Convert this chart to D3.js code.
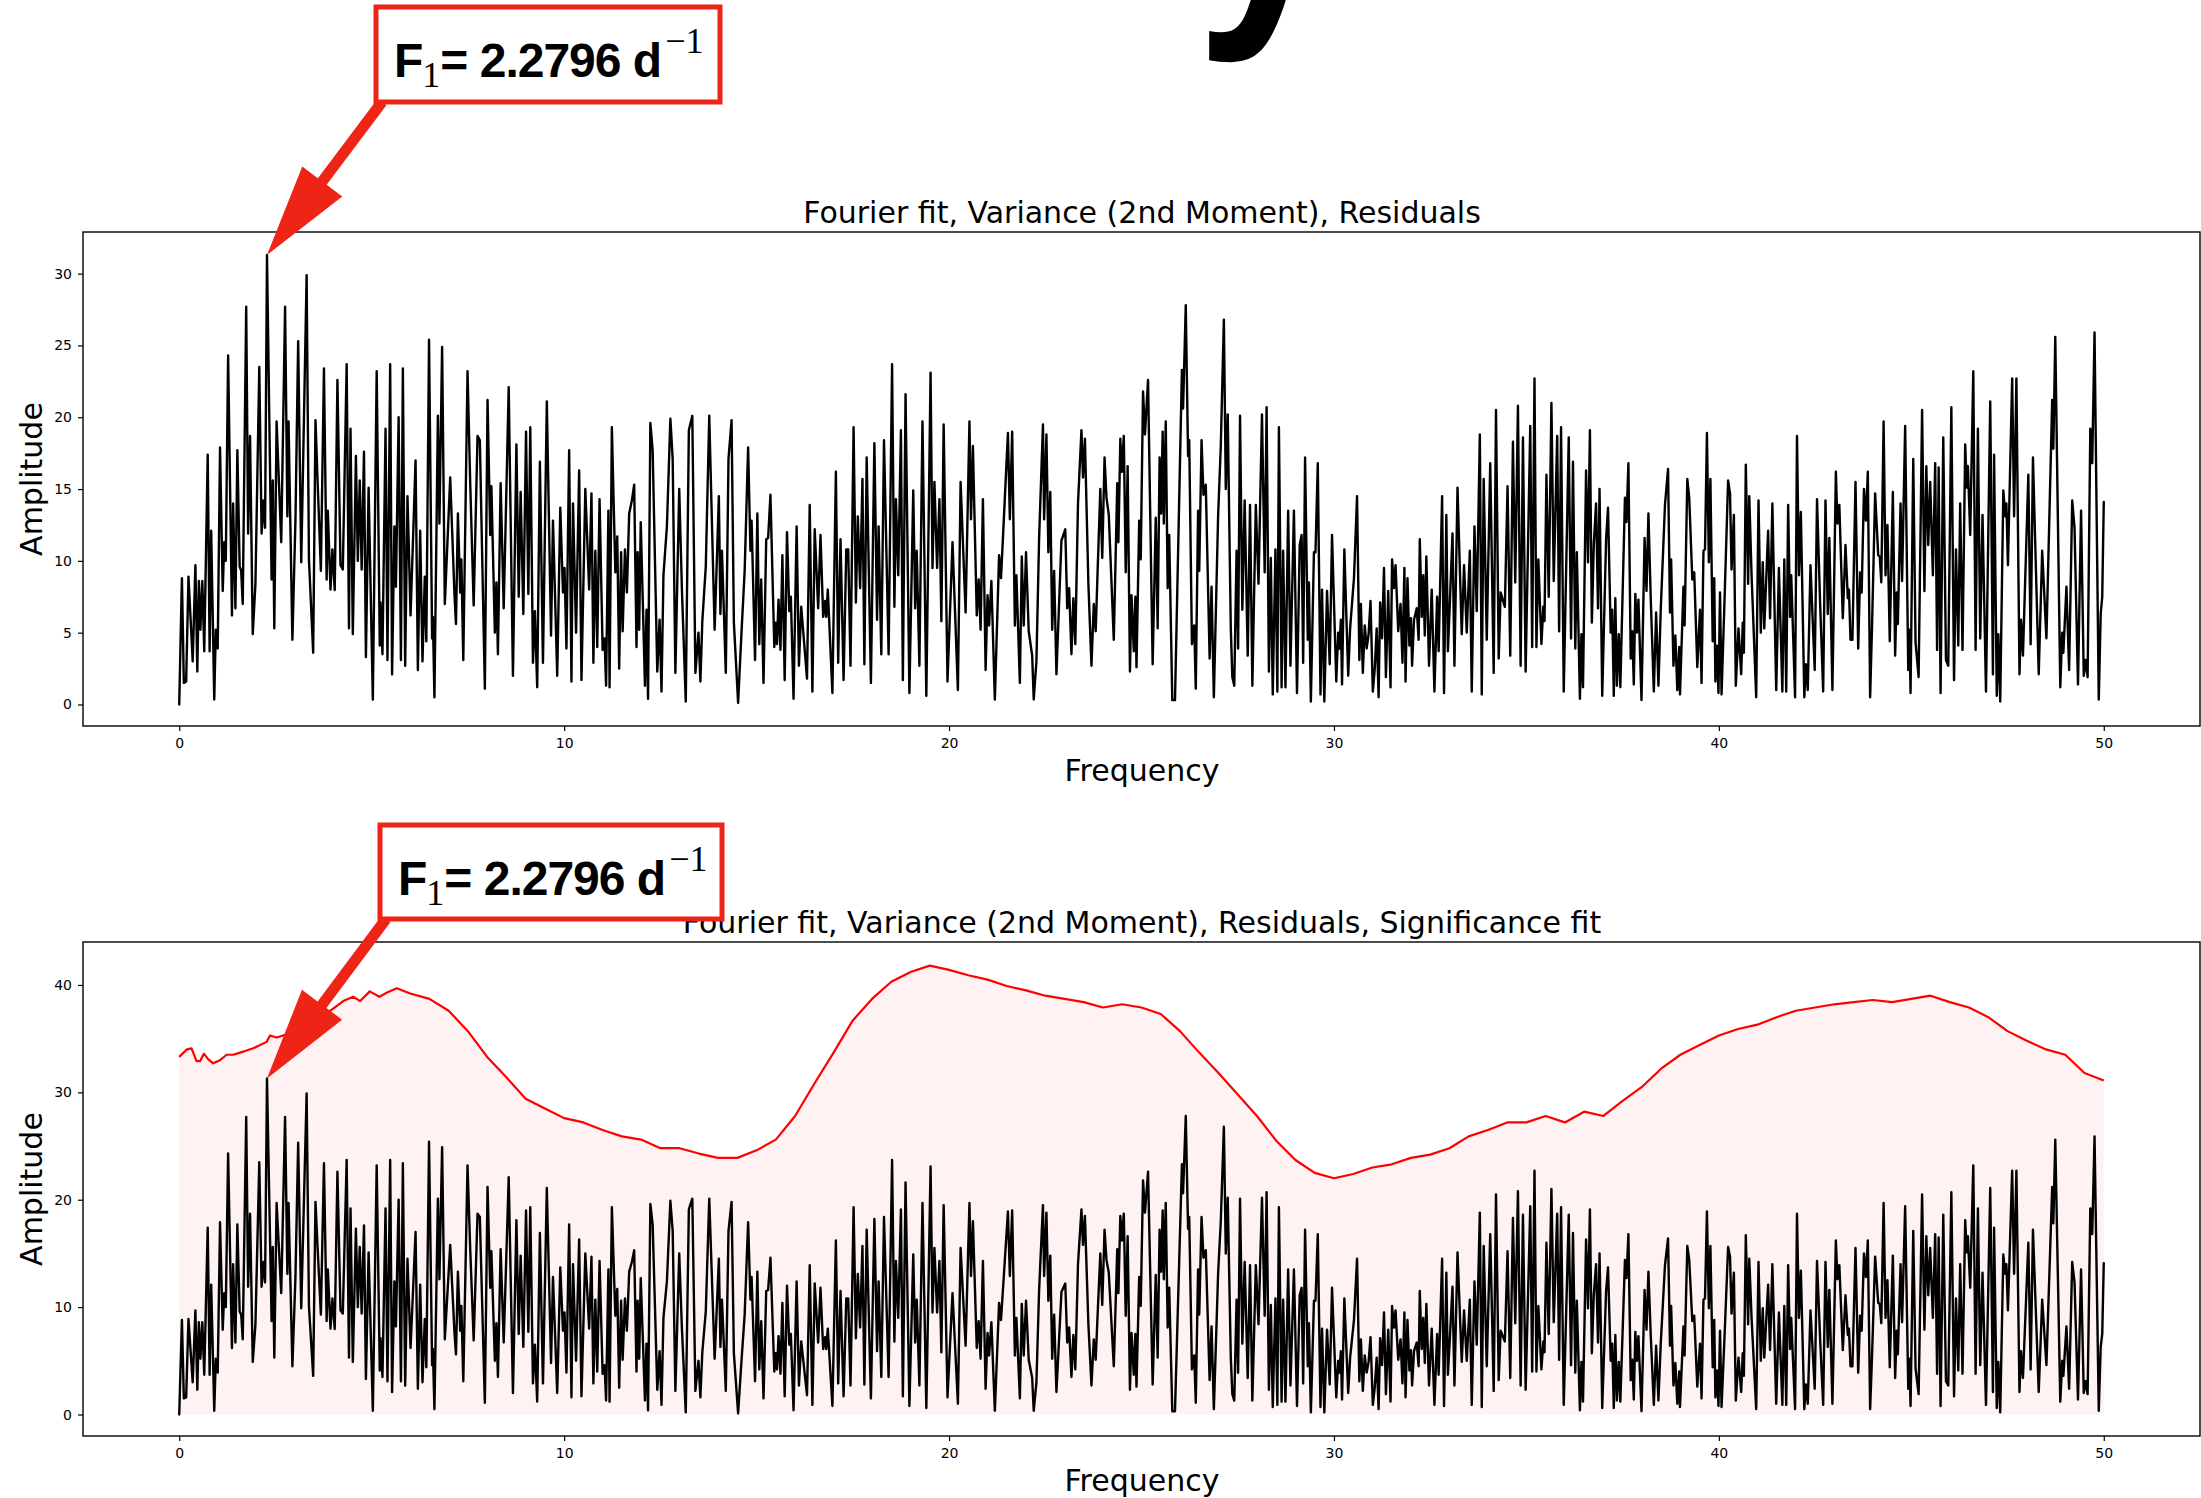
<!DOCTYPE html>
<html><head><meta charset="utf-8">
<script src="https://cdn.jsdelivr.net/npm/d3@7"></script>
<style>body{margin:0;background:#fff;} svg{display:block;}</style>
</head><body>
<script>
// ---------- data ----------
const residualPoints = [
[0,0],[0.07,8.8],[0.12,1.5],[0.18,1.6],[0.24,8.9],[0.35,3.0],[0.42,9.7],[0.47,2.3],[0.51,8.6],[0.55,5.2],[0.60,8.6],[0.65,3.7],[0.74,17.4],[0.79,3.7],[0.83,12.1],[0.91,0.35],[0.95,5.2],[1.0,3.9],[1.06,17.9],[1.13,7.9],[1.17,11.3],[1.21,10.0],[1.27,24.3],[1.37,6.2],[1.40,14.0],[1.46,6.7],[1.51,17.7],[1.57,9.6],[1.61,9.3],[1.65,7.0],[1.74,27.7],[1.79,11.9],[1.84,18.7],[1.91,4.9],[1.98,8.4],[2.08,23.5],[2.14,11.9],[2.19,14.2],[2.23,12.3],[2.28,31.3],[2.40,8.7],[2.43,15.6],[2.47,5.3],[2.53,19.7],[2.65,11.3],[2.75,27.7],[2.81,13.1],[2.84,19.7],[2.94,4.5],[3.02,12.9],[3.09,25.3],[3.17,9.9],[3.31,29.9],[3.37,10.1],[3.48,3.6],[3.54,19.8],[3.59,15.9],[3.68,9.3],[3.76,23.4],[3.83,8.7],[3.86,13.5],[3.93,8.0],[3.98,10.8],[4.04,7.96],[4.11,22.6],[4.19,9.7],[4.25,9.4],[4.35,23.7],
[4.41,5.3],[4.45,19.2],[4.51,4.9],[4.59,17.3],[4.64,10.0],[4.69,15.6],[4.74,9.4],[4.80,17.6],[4.85,3.3],[4.92,15.1],[5.03,0.35],[5.13,23.2],[5.21,4.1],[5.23,7.1],[5.28,3.5],[5.36,19.2],[5.41,3.1],[5.48,23.7],[5.53,2.1],[5.59,12.4],[5.63,8.2],[5.70,20.0],[5.76,3.1],[5.81,23.4],[5.87,2.7],[5.93,14.5],[6.01,6.2],[6.14,17.0],[6.20,2.4],[6.26,12.1],[6.32,3.0],[6.38,8.9],[6.42,4.4],[6.49,25.4],[6.57,4.6],[6.59,6.1],[6.63,0.5],[6.72,20.1],[6.76,12.6],[6.83,24.9],[6.90,7.0],[7.04,15.8],[7.15,7.7],[7.19,5.6],[7.24,13.3],[7.30,7.8],[7.33,10.1],[7.38,3.1],[7.49,23.2],[7.56,15.4],[7.65,6.9],[7.75,18.7],[7.81,18.4],[7.94,1.1],[8.01,21.2],[8.08,11.8],[8.11,15.2],[8.20,5.0],[8.24,8.5],[8.28,3.5],[8.35,15.4],[8.43,6.7],[8.56,22.1],[8.67,2.0],[8.76,18.1],[8.82,7.5],[8.87,14.8],[8.94,6.3],[9.01,19.0],[9.07,7.7],[9.12,19.3],[9.19,2.9],[9.24,6.5],[9.30,1.2],[9.37,16.9],
[9.45,2.9],[9.55,21.1],[9.66,4.8],[9.71,12.8],[9.82,2.0],[9.90,13.7],[9.97,7.8],[10.01,9.5],[10.06,3.9],[10.13,17.7],[10.19,1.6],[10.23,14.0],[10.31,5.0],[10.39,16.3],[10.45,1.7],[10.55,15.0],[10.65,8.0],[10.71,14.7],[10.76,2.9],[10.81,10.7],[10.86,4.0],[10.92,14.3],[11.00,3.8],[11.05,4.6],[11.09,1.3],[11.15,13.5],[11.18,1.2],[11.24,19.3],[11.33,9.2],[11.38,11.7],[11.43,2.5],[11.48,10.6],[11.52,5.1],[11.58,10.8],[11.63,7.8],[11.69,13.3],[11.76,14.2],[11.82,15.3],[11.88,4.0],[11.91,10.6],[11.95,5.2],[11.99,12.7],[12.10,1.3],[12.14,6.6],[12.18,0.4],[12.24,19.6],[12.30,17.7],[12.42,2.3],[12.48,5.9],[12.53,0.9],[12.58,9.0],[12.67,12.4],[12.76,19.9],[12.82,17.1],[12.89,2.2],[12.99,15.0],[13.06,8.0],[13.16,0.2],[13.24,19.1],[13.33,20.1],[13.41,2.2],[13.49,5.0],[13.54,1.6],[13.59,5.8],[13.68,9.6],[13.77,20.1],[13.91,5.2],[14.02,14.5],[14.06,6.3],[14.10,10.7],[14.20,2.2],[14.27,17.1],
[14.35,19.8],[14.41,5.7],[14.52,0.1],[14.60,4.6],[14.69,9.3],[14.78,17.9],[14.84,10.7],[14.87,12.8],[14.96,3.1],[15.02,13.3],[15.07,4.2],[15.12,8.7],[15.18,1.5],[15.25,11.5],[15.30,11.6],[15.36,14.6],[15.46,4.0],[15.50,5.7],[15.53,4.2],[15.57,7.3],[15.62,3.8],[15.67,10.4],[15.73,1.7],[15.79,12.0],[15.85,6.5],[15.89,7.5],[15.96,0.4],[16.04,12.4],[16.10,2.7],[16.16,6.8],[16.31,1.8],[16.38,13.9],[16.45,0.9],[16.51,12.2],[16.60,6.7],[16.66,11.8],[16.73,6.1],[16.78,7.2],[16.81,6.1],[16.85,8.0],[16.97,0.8],[17.06,16.2],[17.12,2.9],[17.18,11.5],[17.26,1.7],[17.33,10.8],[17.38,10.8],[17.44,2.7],[17.52,19.3],[17.58,7.1],[17.63,13.1],[17.69,8.1],[17.75,15.7],[17.80,2.8],[17.86,17.2],[17.97,1.5],[18.06,18.2],[18.13,5.9],[18.17,12.4],[18.24,3.5],[18.31,18.4],[18.43,3.5],[18.52,23.7],[18.58,6.8],[18.62,14.3],[18.68,9.0],[18.75,19.1],[18.80,1.7],[18.87,21.6],[18.97,0.8],[19.07,14.9],
[19.12,6.7],[19.16,10.7],[19.23,2.7],[19.31,19.7],[19.41,0.6],[19.52,23.1],[19.57,9.5],[19.62,15.5],[19.69,9.5],[19.75,14.3],[19.80,5.8],[19.86,19.5],[19.96,1.6],[20.09,11.3],[20.23,1.0],[20.30,15.5],[20.43,6.4],[20.53,19.7],[20.57,12.9],[20.62,18.0],[20.72,6.2],[20.77,8.7],[20.82,5.2],[20.88,14.3],[20.95,2.4],[21.00,7.6],[21.04,5.5],[21.10,8.6],[21.19,0.35],[21.30,10.4],[21.35,8.8],[21.45,14.4],[21.53,18.9],[21.58,12.9],[21.64,19.0],[21.71,5.5],[21.75,9.0],[21.84,1.5],[21.89,10.3],[21.94,5.5],[22.00,10.6],[22.07,5.1],[22.16,3.4],[22.20,0.35],[22.27,3.0],[22.34,11.6],[22.44,19.5],[22.47,12.9],[22.53,18.8],[22.58,10.6],[22.63,14.8],[22.68,5.2],[22.73,9.3],[22.79,2.1],[22.85,6.4],[22.92,11.4],[23.02,12.2],[23.07,6.7],[23.12,8.1],[23.18,3.5],[23.23,7.4],[23.28,4.2],[23.35,14.0],[23.44,19.1],[23.48,15.8],[23.53,18.5],[23.62,8.4],[23.70,2.7],[23.76,7.0],[23.81,5.1],[23.86,9.3],[23.93,15.0],[23.98,10.2],[24.04,17.2],
[24.09,14.4],[24.15,13.2],[24.28,4.5],[24.37,15.4],[24.40,11.3],[24.45,18.5],[24.49,16.2],[24.54,18.7],[24.59,9.2],[24.64,16.6],[24.70,2.3],[24.74,7.6],[24.80,3.7],[24.84,7.5],[24.87,2.6],[24.94,12.8],[24.98,10.1],[25.04,21.8],[25.09,18.8],[25.17,22.6],[25.29,2.8],[25.37,13.0],[25.42,5.3],[25.47,17.2],[25.51,13.3],[25.55,19.0],[25.58,12.6],[25.63,19.7],[25.68,8.1],[25.72,11.8],[25.80,0.3],[25.87,0.3],[26.05,23.3],[26.08,20.6],[26.15,27.8],[26.21,17.3],[26.24,18.4],[26.31,4.2],[26.37,5.5],[26.41,1.1],[26.47,13.5],[26.50,9.3],[26.56,18.4],[26.61,14.6],[26.67,15.3],[26.77,3.2],[26.82,8.2],[26.88,0.5],[26.99,13.1],[27.06,18.0],[27.14,26.8],[27.19,15.0],[27.24,20.2],[27.32,5.3],[27.36,1.9],[27.41,1.3],[27.47,10.7],[27.51,3.9],[27.56,20.1],[27.62,6.6],[27.68,14.2],[27.76,3.4],[27.82,13.9],[27.88,1.3],[27.97,13.9],[28.04,8.4],[28.13,20.2],[28.20,9.2],[28.25,20.7],[28.31,2.3],[28.36,10.2],[28.41,0.7],[28.48,10.8],[28.53,0.9],[28.57,19.3],[28.64,1.2],[28.68,10.7],[28.74,1.2],[28.81,13.5],[28.87,2.7],[28.96,13.5],
[29.04,0.8],[29.11,11.1],[29.16,11.8],[29.20,2.9],[29.25,17.2],[29.32,4.5],[29.35,8.5],[29.40,0.2],[29.48,10.6],[29.52,10.6],[29.58,16.8],[29.65,0.7],[29.69,8.0],[29.75,0.2],[29.82,7.9],[29.89,2.8],[29.95,11.8],[30.06,1.6],[30.11,5.0],[30.14,3.9],[30.18,5.9],[30.21,1.4],[30.27,10.8],[30.37,2.0],[30.42,5.3],[30.52,8.8],[30.60,14.5],[30.66,3.1],[30.70,7.0],[30.75,2.2],[30.80,5.5],[30.85,3.9],[30.90,4.9],[30.95,7.2],[31.01,0.9],[31.06,2.5],[31.11,5.3],[31.16,0.5],[31.20,7.1],[31.25,4.6],[31.30,9.5],[31.35,1.9],[31.41,7.9],[31.47,1.2],[31.51,10.1],[31.56,8.1],[31.60,9.7],[31.67,5.1],[31.73,7.0],[31.78,2.9],[31.83,9.5],[31.86,1.6],[31.91,8.8],[31.96,4.1],[32.00,6.0],[32.03,2.7],[32.08,5.9],[32.15,6.7],[32.20,4.5],[32.23,11.5],[32.28,6.1],[32.32,9.0],[32.36,4.8],[32.40,10.3],[32.47,2.7],[32.54,8.0],[32.61,0.9],[32.68,7.5],[32.72,3.7],[32.81,14.5],[32.86,0.8],[32.92,13.2],[32.96,3.7],[33.01,7.0],[33.08,11.9],[33.13,2.7],[33.21,15.1],[33.32,4.9],[33.38,9.7],[33.45,5.0],[33.53,10.7],[33.58,0.9],[33.65,12.4],[33.71,6.5],[33.79,18.8],[33.84,0.7],[33.89,15.7],[33.97,4.5],[34.06,16.8],
[34.15,2.2],[34.21,20.5],[34.28,3.2],[34.33,7.8],[34.44,6.8],[34.51,15.2],[34.58,3.4],[34.65,18.3],[34.71,8.5],[34.78,20.8],[34.85,2.7],[34.91,18.6],[34.98,2.3],[35.10,19.4],[35.15,4.0],[35.21,22.7],[35.26,4.0],[35.31,10.1],[35.39,4.2],[35.44,6.8],[35.47,5.8],[35.52,16.0],[35.58,7.5],[35.65,21.0],[35.71,8.6],[35.80,18.7],[35.85,5.1],[35.90,19.3],[35.97,0.9],[36.10,18.6],[36.16,4.6],[36.21,16.9],[36.27,3.9],[36.31,10.6],[36.39,0.4],[36.43,4.9],[36.47,1.2],[36.55,16.3],[36.60,9.9],[36.65,19.1],[36.70,5.7],[36.75,11.1],[36.81,14.0],[36.86,6.7],[36.90,15.0],[36.97,0.6],[37.07,11.5],[37.12,13.7],[37.19,5.0],[37.23,6.6],[37.27,0.6],[37.31,7.4],[37.35,1.3],[37.40,4.9],[37.44,1.2],[37.56,14.4],[37.60,12.7],[37.65,16.8],[37.71,3.2],[37.75,5.1],[37.79,1.4],[37.83,7.7],[37.87,5.0],[37.91,7.3],[37.99,0.3],[38.07,11.6],[38.12,7.9],[38.17,13.3],[38.23,7.4],[38.31,0.9],[38.37,6.4],[38.43,1.3],[38.49,6.6],[38.60,13.9],[38.68,16.4],[38.73,6.4],[38.76,10.1],[38.82,2.7],[38.87,4.8],[38.92,1.0],
[38.97,4.0],[38.99,0.7],[39.08,8.2],[39.11,5.5],[39.18,15.7],[39.23,14.4],[39.31,8.7],[39.36,9.2],[39.44,2.6],[39.51,6.6],[39.55,1.5],[39.60,10.7],[39.64,10.8],[39.69,18.9],[39.74,9.9],[39.78,15.7],[39.84,4.4],[39.88,8.8],[39.91,1.6],[39.95,4.1],[39.99,0.8],[40.03,7.8],[40.07,0.7],[40.15,7.5],[40.24,15.6],[40.29,14.7],[40.33,9.4],[40.39,13.2],[40.44,1.3],[40.51,5.3],[40.58,2.1],[40.62,5.7],[40.65,3.6],[40.70,16.7],[40.76,8.4],[40.79,14.5],[40.85,9.0],[40.97,0.5],[41.03,14.2],[41.09,5.0],[41.14,9.9],[41.18,5.3],[41.28,12.1],[41.33,6.0],[41.39,14.0],[41.49,1.0],[41.56,9.5],[41.65,0.9],[41.70,10.1],[41.75,0.9],[41.80,13.9],[41.85,6.1],[41.88,9.0],[41.98,0.5],[42.03,18.7],[42.08,9.0],[42.13,13.4],[42.22,0.5],[42.26,2.8],[42.31,1.0],[42.38,9.7],[42.49,2.4],[42.55,14.3],[42.63,7.1],[42.71,0.9],[42.77,14.2],[42.83,6.3],[42.87,11.6],[42.95,1.0],[43.04,16.2],[43.08,12.6],[43.13,13.9],[43.22,6.0],[43.29,11.1],[43.35,7.4],[43.38,8.0],[43.42,4.5],[43.47,4.5],[43.55,15.5],[43.62,3.9],[43.67,9.2],[43.71,7.8],[43.77,15.0],[43.82,12.8],[43.87,16.2],[43.93,0.5],
[43.98,5.5],[44.06,14.7],[44.14,10.4],[44.18,10.3],[44.22,8.5],[44.28,19.7],[44.33,9.0],[44.38,12.5],[44.44,4.4],[44.52,14.8],[44.58,3.4],[44.62,7.8],[44.65,5.6],[44.72,14.0],[44.76,8.6],[44.84,19.4],[44.92,2.4],[44.95,5.2],[44.98,0.8],[45.05,17.1],[45.11,4.3],[45.19,1.9],[45.28,20.5],[45.34,7.9],[45.39,16.6],[45.44,11.1],[45.49,15.5],[45.56,9.0],[45.62,16.8],[45.67,3.8],[45.71,16.5],[45.76,0.8],[45.83,18.6],[45.90,3.1],[45.96,2.7],[46.04,20.7],[46.11,1.7],[46.16,10.8],[46.22,4.1],[46.27,14.0],[46.33,3.8],[46.40,18.1],[46.44,15.1],[46.47,16.6],[46.53,11.8],[46.61,23.2],[46.67,3.8],[46.73,19.2],[46.79,4.6],[46.85,13.2],[46.94,0.9],[47.05,21.1],[47.12,2.1],[47.15,17.4],[47.22,0.6],[47.26,4.9],[47.31,0.2],[47.39,14.9],[47.44,13.1],[47.47,14.0],[47.51,9.7],[47.62,22.7],[47.67,13.1],[47.73,22.7],[47.81,2.1],[47.85,5.9],[47.90,3.4],[48.04,16.0],[48.10,4.2],[48.16,17.2],[48.31,2.1],[48.40,10.7],[48.51,4.6],[48.66,21.2],[48.69,17.8],[48.74,25.6],[48.87,1.2],[48.92,5.0],[48.95,3.6],[49.03,8.2],[49.10,2.4],[49.18,14.2],[49.24,12.3],[49.33,1.4],[49.41,13.5],[49.48,2.0],[49.53,3.1],[49.58,1.9],[49.65,19.2],[49.70,16.8],[49.76,25.9],[49.87,0.35],[49.92,6.3],[49.96,7.5],[50.0,14.1]
];
const significanceFreq = [0,0.2,0.32,0.45,0.54,0.64,0.75,0.88,1.06,1.23,1.4,1.58,1.75,1.92,2.1,2.27,2.36,2.53,2.7,3.0,3.5,4.0,4.26,4.52,4.7,4.95,5.2,5.4,5.65,6,6.5,7,7.5,8,8.5,9,9.5,10,10.5,11,11.5,12,12.5,13,13.5,14,14.5,15,15.5,16,16.5,17,17.5,18,18.5,19,19.5,20,20.5,21,21.5,22,22.5,23,23.5,24,24.5,25,25.5,26,26.5,27,27.5,28,28.5,29,29.5,30,30.5,31,31.5,32,32.5,33,33.5,34,34.5,35,35.5,36,36.5,37,37.5,38,38.5,39,39.5,40,40.5,41,41.5,42,42.5,43,43.5,44,44.5,45,45.5,46,46.5,47,47.5,48,48.5,49,49.5,50];
const significanceAmp = [33.3,34.0,34.1,32.9,32.9,33.6,33.1,32.7,33.0,33.5,33.5,33.7,33.9,34.1,34.4,34.7,35.3,35.1,35.3,35.6,36.6,37.8,38.5,38.9,38.5,39.4,38.9,39.3,39.7,39.2,38.7,37.6,35.7,33.3,31.4,29.4,28.5,27.6,27.2,26.5,25.9,25.6,24.8,24.8,24.3,23.9,23.9,24.6,25.6,27.8,30.8,33.7,36.7,38.7,40.3,41.2,41.8,41.4,40.9,40.5,39.9,39.5,39.0,38.7,38.4,37.9,38.2,37.9,37.3,35.7,33.7,31.8,29.8,27.8,25.5,23.7,22.5,22.0,22.4,23.0,23.3,23.9,24.2,24.8,25.9,26.5,27.2,27.2,27.8,27.2,28.2,27.8,29.2,30.5,32.2,33.5,34.4,35.3,35.9,36.3,37.0,37.6,37.9,38.2,38.4,38.6,38.4,38.7,39.0,38.4,37.9,37.0,35.7,34.8,34.0,33.5,31.8,31.1];
const xTicks = [0,10,20,30,40,50];
const yTicksTop = [0,5,10,15,20,25,30];
const yTicksBottom = [0,10,20,30,40];
const titleTop = "Fourier fit, Variance (2nd Moment), Residuals";
const titleBottom = "Fourier fit, Variance (2nd Moment), Residuals, Significance fit";
const peakFreq = 2.2796;
const peakAmp = 31.3;

// ---------- drawing ----------
const W = 2201, H = 1498;
const svg = d3.select("body").append("svg").attr("width", W).attr("height", H)
  .style("font-family", "'DejaVu Sans', sans-serif");
const RED = "#ee2416";

// cut-off big heading (only a descender visible at the top edge)
svg.append("text").attr("transform", "translate(1196,0) scale(0.85,1)")
  .attr("font-size", 300)
  .attr("font-family", "'Liberation Sans', Arial, sans-serif").attr("font-weight", "bold")
  .attr("fill", "#000").text("y");

function panel(cfg) {
  const x = d3.scaleLinear().domain([-2.5, 52.5]).range([83, 2200]);
  const y = d3.scaleLinear().domain(cfg.ydom).range([cfg.bottom, cfg.top]);
  const g = svg.append("g");
  if (cfg.sig) {
    const sig = significanceFreq.map((f, i) => [f, significanceAmp[i]]);
    g.append("path").datum(sig)
      .attr("d", d3.area().x(d => x(d[0])).y0(y(0)).y1(d => y(d[1])))
      .attr("fill", "rgba(255,0,0,0.05)");
    g.append("path").datum(sig)
      .attr("d", d3.line().x(d => x(d[0])).y(d => y(d[1])))
      .attr("fill", "none").attr("stroke", "#ff0000").attr("stroke-width", 2.2)
      .attr("stroke-linejoin", "round");
  }
  g.append("path").datum(residualPoints)
    .attr("d", d3.line().x(d => x(d[0])).y(d => y(d[1])))
    .attr("fill", "none").attr("stroke", "#000").attr("stroke-width", 2.4)
    .attr("stroke-linejoin", "round").attr("stroke-linecap", "round");
  g.append("rect").attr("x", 83).attr("y", cfg.top).attr("width", 2200 - 83)
    .attr("height", cfg.bottom - cfg.top).attr("fill", "none")
    .attr("stroke", "#000").attr("stroke-width", 1.4);
  const ax = g.append("g").attr("transform", `translate(0,${cfg.bottom})`)
    .call(d3.axisBottom(x).tickValues(xTicks).tickSize(5).tickPadding(7));
  const ay = g.append("g").attr("transform", `translate(83,0)`)
    .call(d3.axisLeft(y).tickValues(cfg.yticks).tickSize(5).tickPadding(6));
  [ax, ay].forEach(a => {
    a.select(".domain").remove();
    a.selectAll("line").attr("stroke", "#000").attr("stroke-width", 1.2);
    a.selectAll("text").attr("font-size", 14).attr("font-family", "'DejaVu Sans', sans-serif").attr("fill", "#000");
  });
  g.append("text").attr("x", 1142).attr("y", cfg.bottom + 55).attr("text-anchor", "middle")
    .attr("font-size", 30).text("Frequency");
  g.append("text").attr("transform", `translate(42,${(cfg.top + cfg.bottom) / 2}) rotate(-90)`)
    .attr("text-anchor", "middle").attr("font-size", 30).text("Amplitude");
  g.append("text").attr("x", 1142).attr("y", cfg.top - 9).attr("text-anchor", "middle")
    .attr("font-size", 30).text(cfg.title);

  const tipX = x(peakFreq), tipY = y(peakAmp);
  const bx = cfg.box[0], by = cfg.box[1], bw = cfg.box[2], bh = cfg.box[3];
  const sx = bx + 6, sy = by + bh;
  const dx = tipX - sx, dy = tipY - sy, L = Math.hypot(dx, dy);
  const ux = dx / L, uy = dy / L, px = -uy, py = ux;
  const hl = 92, hw = 25, sw = 5.5;
  const bxp = sx + ux * (L - hl), byp = sy + uy * (L - hl);
  const pts = [
    [sx + px * sw, sy + py * sw], [bxp + px * sw, byp + py * sw], [bxp + px * hw, byp + py * hw],
    [tipX, tipY], [bxp - px * hw, byp - py * hw], [bxp - px * sw, byp - py * sw], [sx - px * sw, sy - py * sw]
  ];
  svg.append("polygon").attr("points", pts.map(p => p.join(",")).join(" ")).attr("fill", RED);
  svg.append("rect").attr("x", bx).attr("y", by).attr("width", bw).attr("height", bh)
    .attr("fill", "#fff").attr("stroke", RED).attr("stroke-width", 5);
  const t = svg.append("text").attr("x", bx + 18).attr("y", by + 70)
    .attr("font-family", "'Liberation Sans', Arial, sans-serif").attr("font-weight", "bold")
    .attr("font-size", 48).attr("fill", "#000").attr("letter-spacing", -1);
  t.append("tspan").text("F");
  t.append("tspan").attr("font-family", "'Liberation Serif', serif").attr("font-weight", "normal")
    .attr("font-size", 36).attr("dy", 10).attr("letter-spacing", 0).text("1");
  t.append("tspan").attr("dy", -10).text("= 2.2796 d");
  t.append("tspan").attr("font-family", "'Liberation Serif', serif").attr("font-weight", "normal")
    .attr("font-size", 36).attr("dy", -24).attr("dx", 4).attr("letter-spacing", 0).text("\u22121");
}

panel({ top: 232, bottom: 726, ydom: [-1.5, 32.9], yticks: yTicksTop, title: titleTop,
        sig: false, box: [376, 7, 344, 95] });
panel({ top: 942, bottom: 1436, ydom: [-2.0, 44.0], yticks: yTicksBottom, title: titleBottom,
        sig: true, box: [380, 825, 342, 94] });
</script>
</body></html>
